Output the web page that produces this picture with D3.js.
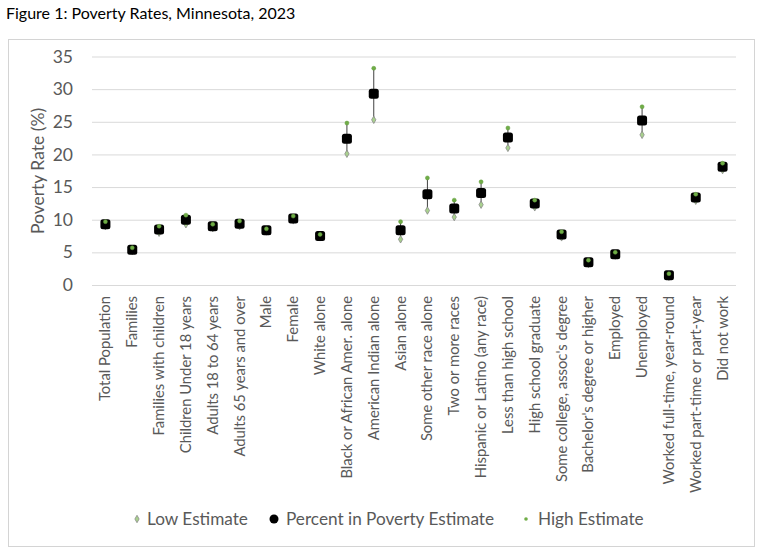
<!DOCTYPE html>
<html>
<head>
<meta charset="utf-8">
<script src="https://cdn.jsdelivr.net/npm/d3@7"></script>
<style>
  html, body { margin: 0; padding: 0; background: #fff; }
  svg { display: block; font-family: Lato, "Noto Sans", sans-serif; }
</style>
</head>
<body>
<svg id="chart" width="761" height="552"></svg>
<script>
const categories = [
  "Total Population", "Families", "Families with children", "Children Under 18 years",
  "Adults 18 to 64 years", "Adults 65 years and over", "Male", "Female", "White alone",
  "Black or African Amer. alone", "American Indian alone", "Asian alone",
  "Some other race alone", "Two or more races", "Hispanic or Latino (any race)",
  "Less than high school", "High school graduate", "Some college, assoc's degree",
  "Bachelor's degree or higher", "Employed", "Unemployed", "Worked full-time, year-round",
  "Worked part-time or part-year", "Did not work"
];
const estimate = [9.3, 5.4, 8.5, 10.0, 9.0, 9.4, 8.4, 10.2, 7.5, 22.4, 29.3, 8.4,
  13.9, 11.7, 14.1, 22.6, 12.5, 7.75, 3.5, 4.7, 25.2, 1.5, 13.4, 18.1];
const lowEstimate = [9.0, 5.2, 8.0, 9.3, 8.7, 9.0, 8.2, 9.9, 7.3, 20.1, 25.3, 7.0,
  11.4, 10.4, 12.3, 21.0, 11.9, 7.3, 3.2, 4.5, 23.0, 1.25, 12.9, 17.6];
const highEstimate = [9.7, 5.7, 9.0, 10.7, 9.3, 9.8, 8.6, 10.55, 7.75, 24.8, 33.2, 9.7,
  16.4, 13.0, 15.8, 24.05, 13.0, 8.15, 3.8, 5.0, 27.3, 1.73, 13.9, 18.65];
const yTicks = [0, 5, 10, 15, 20, 25, 30, 35];
const legendLabels = ["Low Estimate", "Percent in Poverty Estimate", "High Estimate"];

const svg = d3.select("#chart");
const textColor = "#595959";

// title
svg.append("text").attr("x", 6).attr("y", 19)
  .attr("font-size", 16).attr("fill", "#000")
  .text("Figure 1: Poverty Rates, Minnesota, 2023");

// chart border
svg.append("rect").attr("x", 8.5).attr("y", 39.5).attr("width", 746).attr("height", 507)
  .attr("fill", "#fff").attr("stroke", "#d4d4d4").attr("stroke-width", 1);

const plotL = 92, plotR = 736, plotT = 56.5, plotB = 285;
const x = d3.scaleBand().domain(categories).range([plotL, plotR]);
const y = d3.scaleLinear().domain([0, 35]).range([plotB, plotT]);
const cx = c => x(c) + x.bandwidth() / 2;

// gridlines
const yAxis = d3.axisLeft(y).tickValues(yTicks).tickSize(-(plotR - plotL)).tickPadding(19);
const gy = svg.append("g").attr("transform", `translate(${plotL},0)`).call(yAxis);
gy.select(".domain").remove();
gy.selectAll(".tick line").attr("stroke", "#d9d9d9").attr("stroke-width", 1);
gy.selectAll(".tick text").attr("fill", textColor).attr("font-size", 17.5)
  .attr("font-family", "Lato, sans-serif");

// x axis labels
const xAxis = d3.axisBottom(x).tickSize(0).tickPadding(0);
const gx = svg.append("g").attr("transform", `translate(0,${plotB})`).call(xAxis);
gx.select(".domain").remove();
gx.selectAll(".tick text")
  .attr("fill", textColor).attr("font-size", 14.8).attr("font-family", "Lato, sans-serif")
  .attr("text-anchor", "end").attr("dy", null)
  .attr("transform", "translate(5,11) rotate(-90)")
  .attr("y", 0).attr("x", 0);

// y axis title
svg.append("text")
  .attr("transform", `translate(44,171) rotate(-90)`)
  .attr("text-anchor", "middle").attr("fill", textColor).attr("font-size", 17.5)
  .text("Poverty Rate (%)");

const data = categories.map((c, i) => ({c, est: estimate[i], lo: lowEstimate[i], hi: highEstimate[i]}));

// high-low lines
svg.append("g").selectAll("line").data(data).join("line")
  .attr("x1", d => cx(d.c)).attr("x2", d => cx(d.c))
  .attr("y1", d => y(d.lo)).attr("y2", d => y(d.hi))
  .attr("stroke", "#404040").attr("stroke-width", 1);

// low markers
svg.append("g").selectAll("path").data(data).join("path")
  .attr("d", d3.symbol().type(d3.symbolDiamond).size(16))
  .attr("transform", d => `translate(${cx(d.c)},${y(d.lo)})`)
  .attr("fill", "#a9d18e").attr("stroke", "#8a8a8a").attr("stroke-width", 0.8);

// main markers
svg.append("g").selectAll("rect").data(data).join("rect")
  .attr("x", d => cx(d.c) - 5).attr("y", d => y(d.est) - 5)
  .attr("width", 10).attr("height", 10).attr("rx", 2.5)
  .attr("fill", "#000");

// high markers
svg.append("g").selectAll("circle").data(data).join("circle")
  .attr("cx", d => cx(d.c)).attr("cy", d => y(d.hi)).attr("r", 2)
  .attr("fill", "#70ad47").attr("stroke", "#5e9a3a").attr("stroke-width", 0.5);

// legend
const ly = 519;
const lfs = 17.2;
const leg = svg.append("g");
leg.append("path").attr("d", d3.symbol().type(d3.symbolDiamond).size(16))
  .attr("transform", `translate(137,${ly})`)
  .attr("fill", "#a9d18e").attr("stroke", "#8a8a8a").attr("stroke-width", 0.8);
leg.append("text").attr("x", 147).attr("y", ly).attr("dy", "0.35em")
  .attr("font-size", lfs).attr("fill", textColor).text(legendLabels[0]);
leg.append("circle").attr("cx", 274).attr("cy", ly).attr("r", 4.5).attr("fill", "#000");
leg.append("text").attr("x", 286).attr("y", ly).attr("dy", "0.35em")
  .attr("font-size", lfs).attr("fill", textColor).text(legendLabels[1]);
leg.append("circle").attr("cx", 526).attr("cy", ly).attr("r", 1.8)
  .attr("fill", "#70ad47");
leg.append("text").attr("x", 538).attr("y", ly).attr("dy", "0.35em")
  .attr("font-size", lfs).attr("fill", textColor).text(legendLabels[2]);
</script>
</body>
</html>
